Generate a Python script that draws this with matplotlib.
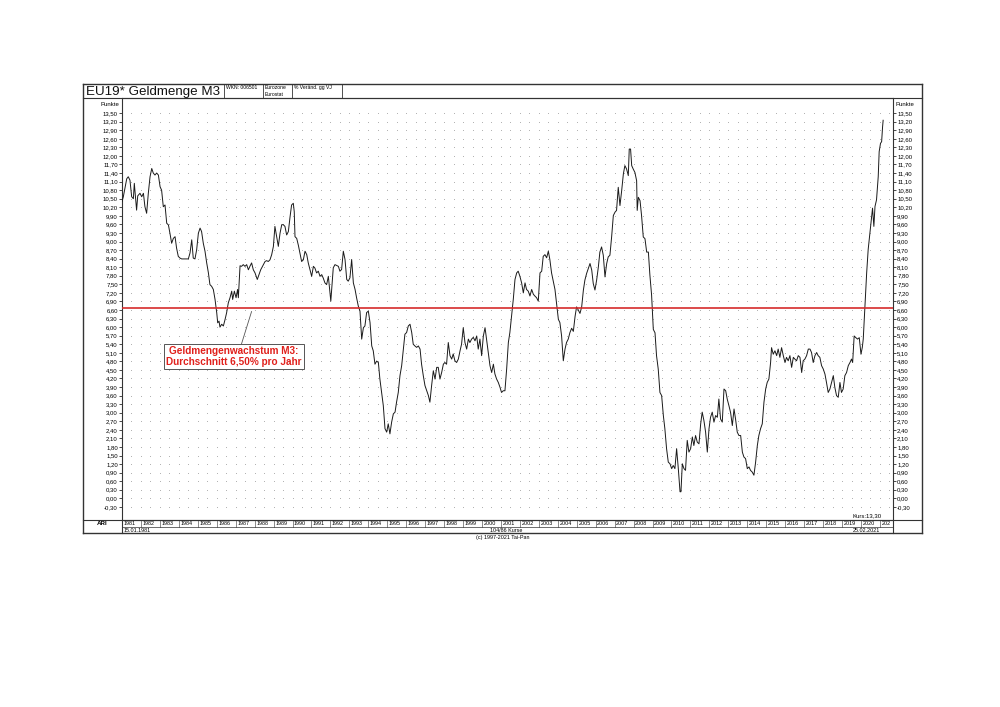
import numpy as np
import matplotlib
matplotlib.use("Agg")
import matplotlib.pyplot as plt
from matplotlib.lines import Line2D

plt.rcParams['font.family'] = ['Liberation Sans', 'DejaVu Sans']

#-----------------------------
# Data: M3 growth, % change y/y
#-----------------------------
years = [
    1981.00, 1981.07, 1981.25, 1981.33, 1981.42, 1981.51, 1981.60, 1981.65, 1981.77, 1981.83,
    1981.95, 1982.04, 1982.13, 1982.21, 1982.30, 1982.39, 1982.48, 1982.57, 1982.65, 1982.74,
    1982.83, 1982.92, 1983.01, 1983.09, 1983.18, 1983.27, 1983.36, 1983.45, 1983.53, 1983.62,
    1983.71, 1983.80, 1983.88, 1983.97, 1984.06, 1984.15, 1984.32, 1984.50, 1984.59, 1984.68,
    1984.76, 1984.85, 1984.94, 1985.03, 1985.12, 1985.20, 1985.29, 1985.38, 1985.47, 1985.56,
    1985.64, 1985.73, 1985.82, 1985.91, 1986.00, 1986.05, 1986.12, 1986.17, 1986.26, 1986.35,
    1986.44, 1986.52, 1986.61, 1986.70, 1986.79, 1986.84, 1986.93, 1987.02, 1987.10, 1987.14,
    1987.23, 1987.31, 1987.40, 1987.49, 1987.58, 1987.67, 1987.75, 1987.84, 1987.93, 1988.02,
    1988.14, 1988.23, 1988.32, 1988.46, 1988.55, 1988.63, 1988.72, 1988.81, 1988.90, 1988.99,
    1989.07, 1989.16, 1989.25, 1989.34, 1989.43, 1989.51, 1989.60, 1989.69, 1989.78, 1989.87,
    1989.95, 1990.04, 1990.09, 1990.13, 1990.22, 1990.31, 1990.39, 1990.48, 1990.57, 1990.66,
    1990.75, 1990.83, 1990.92, 1991.01, 1991.10, 1991.18, 1991.27, 1991.36, 1991.45, 1991.54,
    1991.62, 1991.71, 1991.80, 1991.89,
    1992.02, 1992.15, 1992.24, 1992.42, 1992.50, 1992.59, 1992.68, 1992.77, 1992.86, 1992.94,
    1993.03, 1993.12, 1993.21, 1993.30, 1993.38, 1993.47, 1993.56, 1993.65, 1993.74, 1993.82,
    1993.91, 1994.00, 1994.09, 1994.18, 1994.26, 1994.35, 1994.44, 1994.53, 1994.61, 1994.70,
    1994.79, 1994.88, 1994.97, 1995.05, 1995.14, 1995.23, 1995.32, 1995.41, 1995.49, 1995.58,
    1995.67, 1995.76, 1995.85, 1995.93, 1996.02, 1996.11, 1996.20, 1996.29, 1996.37, 1996.46,
    1996.55, 1996.64, 1996.73, 1996.81, 1996.90, 1996.99, 1997.08, 1997.17, 1997.25, 1997.34,
    1997.43, 1997.52, 1997.61, 1997.69, 1997.78, 1997.87, 1997.96, 1998.04, 1998.13, 1998.22,
    1998.31, 1998.40, 1998.48, 1998.57, 1998.66, 1998.75, 1998.84, 1998.92, 1999.01, 1999.10,
    1999.19, 1999.28, 1999.36, 1999.45, 1999.54, 1999.63, 1999.72, 1999.80, 1999.89, 1999.98,
    2000.07, 2000.16, 2000.24, 2000.33, 2000.42, 2000.51, 2000.60, 2000.68, 2000.77, 2000.86,
    2000.95, 2001.03, 2001.12, 2001.21, 2001.30, 2001.39, 2001.47, 2001.56, 2001.65, 2001.74,
    2001.83, 2001.91, 2002.00, 2002.09, 2002.18, 2002.27, 2002.35, 2002.44, 2002.53, 2002.62,
    2002.71, 2002.79, 2002.88, 2002.97, 2003.06, 2003.15, 2003.23, 2003.32, 2003.41, 2003.50,
    2003.58, 2003.67, 2003.76, 2003.85, 2003.94, 2004.03, 2004.11, 2004.20, 2004.29, 2004.38,
    2004.46, 2004.55, 2004.64,
    2004.73, 2004.82, 2004.91, 2004.99, 2005.08, 2005.17, 2005.26, 2005.35, 2005.43, 2005.52,
    2005.61, 2005.70, 2005.79, 2005.87, 2005.96, 2006.05, 2006.14, 2006.22, 2006.31, 2006.40,
    2006.49, 2006.58, 2006.66, 2006.75, 2006.84, 2006.93, 2007.02, 2007.10, 2007.19, 2007.28,
    2007.37, 2007.46, 2007.54, 2007.63, 2007.72, 2007.77, 2007.84, 2007.90, 2007.98, 2008.07,
    2008.16, 2008.19, 2008.25, 2008.34, 2008.42, 2008.51, 2008.60, 2008.69, 2008.78, 2008.86,
    2008.95,
    2009.04, 2009.13, 2009.21, 2009.30, 2009.39, 2009.48, 2009.57, 2009.65, 2009.74, 2009.83,
    2009.92, 2010.01, 2010.09, 2010.18, 2010.27, 2010.36, 2010.45, 2010.50, 2010.57, 2010.66,
    2010.74, 2010.83, 2010.92, 2011.01, 2011.10, 2011.18, 2011.27, 2011.36, 2011.45, 2011.54,
    2011.62, 2011.71, 2011.80, 2011.89, 2011.98, 2012.06, 2012.15, 2012.24, 2012.33, 2012.42,
    2012.50, 2012.59, 2012.68, 2012.77, 2012.86, 2012.94, 2013.03, 2013.12, 2013.21, 2013.30,
    2013.38, 2013.47, 2013.56, 2013.65, 2013.74, 2013.82, 2013.91, 2014.00, 2014.09, 2014.17,
    2014.26, 2014.35, 2014.44, 2014.53, 2014.61, 2014.70, 2014.79, 2014.88, 2014.97, 2015.05,
    2015.14, 2015.23, 2015.28, 2015.37, 2015.46, 2015.55, 2015.63, 2015.72, 2015.81, 2015.90,
    2015.99, 2016.07, 2016.16, 2016.25, 2016.34, 2016.43, 2016.51, 2016.60, 2016.69, 2016.78,
    2016.87, 2016.95, 2017.04, 2017.13, 2017.22, 2017.31,
    2017.39, 2017.48, 2017.57, 2017.66, 2017.74, 2017.83, 2017.92, 2018.01, 2018.10, 2018.18,
    2018.27, 2018.36, 2018.45, 2018.54, 2018.62, 2018.71, 2018.80, 2018.89, 2018.97, 2019.06,
    2019.15, 2019.24, 2019.33, 2019.42, 2019.50, 2019.56, 2019.64, 2019.73, 2019.82, 2019.91,
    2020.00, 2020.07, 2020.12, 2020.21, 2020.30, 2020.38, 2020.47, 2020.56, 2020.61, 2020.68,
    2020.74, 2020.82, 2020.91, 2020.96, 2021.03, 2021.09, 2021.14, 2021.17,
]
m3 = [
    10.40, 10.57, 11.20, 11.27, 11.15, 10.57, 10.50, 11.04, 10.10, 10.60,
    10.69, 10.57, 10.69, 10.22, 9.99, 10.70, 11.27, 11.56, 11.40, 11.33,
    11.40, 11.33, 10.92, 10.80, 10.22, 10.28, 9.64, 9.58, 9.29, 8.94,
    9.11, 9.17, 8.77, 8.48, 8.42, 8.39, 8.39, 8.39, 8.60, 9.06,
    8.42, 8.39, 8.71, 9.29, 9.47, 9.35, 8.94, 8.66, 8.25, 7.90,
    7.49, 7.43, 7.32, 6.97, 6.50, 6.15, 6.21, 6.00, 6.10, 6.04,
    6.27, 6.50, 6.85, 7.03, 7.26, 6.97, 7.26, 7.03, 7.32, 7.03,
    8.15, 8.13, 8.19, 8.13, 8.19, 8.01, 8.13, 8.25, 8.01, 7.90,
    7.67, 7.84, 8.01, 8.19, 8.30, 8.33, 8.30, 8.36, 8.54, 8.83,
    9.53, 9.17, 8.83, 9.29, 9.59, 9.59, 9.53, 9.23, 9.35, 9.87,
    10.28, 10.34, 10.05, 9.17, 9.11, 8.86, 8.60, 8.30, 8.36, 8.66,
    8.54, 8.25, 8.01, 7.78, 8.13, 8.07, 7.90, 7.96, 7.78, 7.84,
    7.72, 7.55, 7.49, 7.78,
    6.91, 8.08, 8.19, 8.13, 7.96, 8.02, 8.66, 8.37, 7.67, 7.61,
    7.73, 8.37, 7.55, 7.32, 7.03, 6.74, 6.56, 5.58, 5.98, 6.04,
    6.51, 6.56, 6.16, 5.34, 5.17, 4.70, 4.81, 4.76, 4.18, 3.71,
    3.25, 2.44, 2.32, 2.61, 2.26, 2.67, 2.96, 3.02, 3.37, 3.71,
    4.30, 4.65, 5.23, 5.75, 5.81, 6.04, 6.10, 5.81, 5.40, 5.34,
    5.29, 5.34, 5.23, 4.70, 4.30, 3.95, 3.77, 3.60, 3.37, 3.95,
    4.47, 4.18, 4.59, 4.59, 4.18, 4.41, 4.70, 4.76, 4.70, 5.46,
    5.00, 4.88, 5.06, 4.82, 4.76, 4.88, 5.17, 5.40, 5.98, 5.46,
    5.23, 5.58, 5.46, 5.58, 5.64, 5.52, 5.69, 5.23, 5.58, 5.00,
    5.69, 5.98, 5.58, 5.11, 4.65, 4.41, 4.70, 4.36, 4.18, 4.06,
    3.89, 3.71, 3.77, 3.77, 4.53, 5.46, 5.81, 6.39, 6.97, 7.67,
    7.90, 7.96, 7.78, 7.55, 7.20, 7.55, 7.32, 7.26, 7.09, 7.32,
    7.15, 7.09, 7.03, 6.91, 7.90, 7.96, 8.48, 8.54, 8.43, 8.66,
    8.37, 7.90, 7.61, 7.32, 6.80, 6.27, 6.16, 5.69, 4.82, 5.23,
    5.46, 5.58, 5.81,
    5.96, 5.85, 6.37, 6.71, 6.60, 6.48, 6.71, 7.30, 7.65, 7.88,
    8.05, 8.23, 8.00, 7.53, 7.30, 7.65, 8.11, 8.63, 8.81, 8.52,
    7.76, 8.23, 8.46, 8.52, 9.16, 9.91, 10.03, 10.09, 10.90, 10.26,
    10.78, 11.37, 11.66, 11.54, 11.31, 12.24, 12.24, 11.66, 11.54, 11.42,
    11.13, 10.09, 10.55, 10.43, 9.91, 9.16, 9.10, 8.63, 8.63, 7.82,
    7.12,
    5.92, 5.80, 5.00, 4.53, 3.71, 3.60, 2.90, 2.44, 1.74, 1.27,
    1.21, 1.04, 1.15, 1.04, 1.74, 1.04, 0.23, 0.23, 1.21, 1.04,
    0.98, 2.03, 1.62, 1.74, 2.15, 1.85, 2.20, 1.97, 1.91, 2.61,
    3.02, 2.73, 2.32, 1.62, 2.44, 2.84, 3.02, 2.67, 2.90, 2.84,
    3.48, 2.78, 2.67, 3.83, 3.77, 3.48, 3.25, 3.00, 2.55, 3.13,
    2.78, 2.32, 2.20, 2.20, 1.62, 1.45, 1.39, 1.04, 1.10, 0.98,
    0.92, 0.81, 1.27, 1.85, 2.20, 2.44, 2.61, 3.37, 3.83, 4.06,
    4.18, 4.76, 5.28, 5.05, 5.17, 5.00, 5.23, 4.94, 5.28, 5.00,
    4.76, 4.94, 4.82, 5.00, 4.59, 4.94, 4.88, 4.82, 5.00, 4.94,
    4.41, 4.82, 4.88, 5.00, 5.23, 5.23,
    5.11, 4.76, 5.00, 5.11, 5.00, 4.94, 4.65, 4.53, 4.35, 4.06,
    3.71, 3.83, 4.06, 4.30, 3.89, 3.60, 3.54, 4.06, 3.71, 3.83,
    4.30, 4.41, 4.65, 4.76, 4.88, 4.76, 5.69, 5.63, 5.58, 5.63,
    5.05, 5.29, 5.58, 6.74, 7.90, 8.72, 9.30, 9.88, 10.17, 9.53,
    10.23, 10.46, 11.27, 12.15, 12.44, 12.50, 13.02, 13.25,
]

avg_line = 6.66
y_ticks = [round(-0.30 + 0.30 * i, 2) for i in range(47)]
year_labels = list(range(1981, 2022))

# figure positions in pixels of a 1000x707 page
W, H = 1000.0, 707.0
def fx(x):
    return x / W
def fy(y):
    return 1 - y / H

fig = plt.figure(figsize=(10, 7.07), dpi=100)
fig.patch.set_facecolor("white")

ax = fig.add_axes([fx(122), fy(520), fx(893) - fx(122), fy(98) - fy(520)])
ax.set_xlim(1981.0, 2021.69)
ax.set_ylim(-0.76, 14.03)

# dotted lattice grid
gx = np.arange(1981.0, 2021.7, 0.5)
GX, GY = np.meshgrid(gx, y_ticks)
ax.scatter(GX.ravel(), GY.ravel(), s=0.45, color="#ababab", linewidths=0, zorder=1)

ax.plot(years, m3, color="#1a1a1a", lw=0.7, zorder=3)
ax.axhline(avg_line, color="#d52b2b", lw=1.2, zorder=4)

ax.annotate("Geldmengenwachstum M3:\nDurchschnitt 6,50% pro Jahr",
            xy=(1987.84, 6.55), xytext=(1986.91, 4.97),
            ha="center", va="center", color="#e0201b", fontsize=7.2,
            fontweight="bold", linespacing=1.05,
            bbox=dict(boxstyle="square,pad=0.2", fc="white", ec="#555555", lw=0.7),
            arrowprops=dict(arrowstyle="-", color="#555555", lw=0.6,
                            relpos=(0.55, 1.0), shrinkA=0, shrinkB=0),
            zorder=5)

ax.text(0.985, 0.005, "Kurs:13,30", transform=ax.transAxes, fontsize=4.3,
        ha="right", va="bottom")

# y axes on both sides
ax.set_yticks(y_ticks)
ax.set_yticklabels([f"{v:.2f}".replace(".", ",") for v in y_ticks])
ax.tick_params(axis="y", labelsize=4.3, length=2, width=0.5, pad=1,
               left=True, right=True, labelleft=True, labelright=True)
ax.set_xticks([])
for s in ax.spines.values():
    s.set_linewidth(0.8)
    s.set_color("#333333")
for side, xpos, ha in (("left", 119, "right"), ("right", 896, "left")):
    fig.text(fx(xpos), fy(104), "Punkte", fontsize=4.3, ha=ha, va="center")

# outer frame and header
frame_color = "#333333"
def hline(y, x0, x1, lw=0.8):
    fig.add_artist(Line2D([fx(x0), fx(x1)], [fy(y), fy(y)], color=frame_color, lw=lw))
def vline(x, y0, y1, lw=0.8):
    fig.add_artist(Line2D([fx(x), fx(x)], [fy(y0), fy(y1)], color=frame_color, lw=lw))

hline(84, 83, 922, 1.0)
hline(533, 83, 922, 1.0)
vline(83, 84, 533, 1.0)
vline(922, 84, 533, 1.0)
hline(98, 83, 922)
for xs in (224, 263, 292, 342):
    vline(xs, 84, 98, 0.6)

fig.text(fx(86), fy(91.5), "EU19* Geldmenge M3", fontsize=9.6, ha="left", va="center",
         color="#111111")
fig.text(fx(226), fy(87.5), "WKN: 006501", fontsize=3.6, ha="left", va="center")
fig.text(fx(265), fy(87.5), "Eurozone", fontsize=3.6, ha="left", va="center")
fig.text(fx(265), fy(94), "Eurostat", fontsize=3.6, ha="left", va="center")
fig.text(fx(294), fy(87.5), "% Veränd. gg VJ", fontsize=3.6, ha="left", va="center")

# bottom time bar
hline(520, 83, 922)
hline(527, 122, 893, 0.5)
vline(122, 520, 533)
vline(893, 520, 533)
fig.text(fx(102), fy(523.5), "ARI", fontsize=4.5, ha="center", va="center", fontweight="bold")
trans = ax.get_xaxis_transform()
row_top = 0.0
row_bot = -(527 - 520) / (520 - 98)
for yr in year_labels:
    ax.plot([yr, yr], [row_top, row_bot], transform=trans, color=frame_color,
            lw=0.4, clip_on=False)
    label = str(yr) if yr < 2021 else "202"
    ax.text(yr + 0.08, (row_top + row_bot) / 2, label, transform=trans,
            fontsize=3.9, ha="left", va="center", clip_on=False)

fig.text(fx(124), fy(530), "15.01.1981", fontsize=3.9, ha="left", va="center")
fig.text(fx(506), fy(530), "104/86 Kurse", fontsize=3.9, ha="center", va="center")
fig.text(fx(880), fy(530), "25.02.2021", fontsize=3.9, ha="right", va="center")
fig.text(fx(503), fy(538), "(c) 1997-2021 Tai-Pan", fontsize=3.9, ha="center", va="center")

fig.savefig("out.png", dpi=100, facecolor="white")
